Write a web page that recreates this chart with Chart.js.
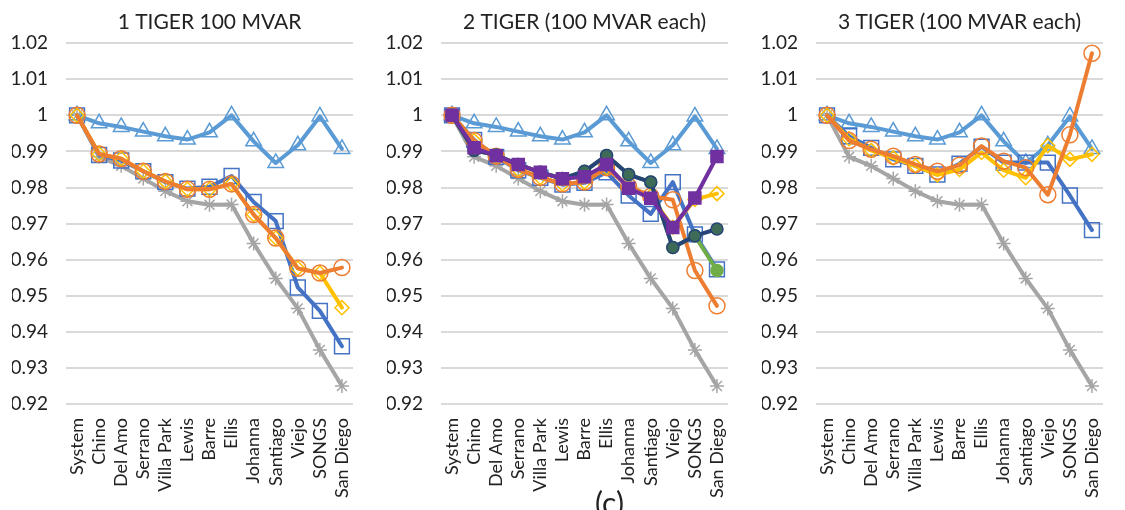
<!DOCTYPE html>
<html>
<head>
<meta charset="utf-8">
<script src="https://cdn.jsdelivr.net/npm/chart.js@4/dist/chart.umd.min.js"></script>
<style>
  body { margin: 0; background: #fff; }
  #wrap { position: relative; width: 1125px; height: 510px; overflow: hidden; }
  canvas { position: absolute; top: 0; }
  #tag { position: absolute; left: 595px; top: 484px; font: 30px Lato, sans-serif; color: #222; }
</style>
</head>
<body>
<div id="wrap">
  <canvas id="p1" width="375" height="510" style="left:0px"></canvas>
  <canvas id="p2" width="375" height="510" style="left:375px"></canvas>
  <canvas id="p3" width="375" height="510" style="left:750px"></canvas>
  <div id="tag">(c)</div>
</div>
<script>
const labels = ['System', 'Chino', 'Del Amo', 'Serrano', 'Villa Park', 'Lewis', 'Barre',
                'Ellis', 'Johanna', 'Santiago', 'Viejo', 'SONGS', 'San Diego']

// values shared by all three panels
const noTiger = [1, 0.9885, 0.986, 0.9825, 0.979, 0.9762, 0.9752, 0.9753, 0.9645, 0.9548, 0.9465, 0.935, 0.925]
const upper = [1, 0.9978, 0.9968, 0.9955, 0.9942, 0.9933, 0.9953, 1.0, 0.9928, 0.9868, 0.9917, 0.9997, 0.9907]

// 1 TIGER
const p1Blue = [1, 0.989, 0.9875, 0.9845, 0.9815, 0.9797, 0.9802, 0.9832, 0.976, 0.9707, 0.9523, 0.9458, 0.936]
const p1Orange = [1, 0.9893, 0.988, 0.9845, 0.9817, 0.9795, 0.9795, 0.981, 0.9725, 0.966, 0.9576, 0.9563, 0.9578]
const p1Yellow = [1, 0.9893, 0.988, 0.9845, 0.9817, 0.9795, 0.9795, 0.981, 0.9725, 0.966, 0.9576, 0.9563, 0.9467]

// 2 TIGER
const p2Blue = [1, 0.9932, 0.9885, 0.9848, 0.9827, 0.9808, 0.9813, 0.9842, 0.9778, 0.9727, 0.9815, 0.967, 0.9573]
const p2Orange = [1, 0.993, 0.9887, 0.985, 0.9828, 0.981, 0.9815, 0.9855, 0.9803, 0.9776, 0.9766, 0.957, 0.9472]
const p2Yellow = [1, 0.993, 0.9887, 0.985, 0.9828, 0.981, 0.9815, 0.9855, 0.9803, 0.9776, 0.969, 0.9767, 0.9783]
const p2Navy = [1, 0.9903, 0.989, 0.9864, 0.9842, 0.9825, 0.9845, 0.9889, 0.9836, 0.9815, 0.9634, 0.9666, 0.9685]
const p2Green = [1, 0.9903, 0.989, 0.9864, 0.9842, 0.9825, 0.9845, 0.9889, 0.9836, 0.9815, 0.9634, 0.9666, 0.957]
const p2Purple = [1, 0.991, 0.9888, 0.9864, 0.9842, 0.9824, 0.983, 0.9864, 0.9798, 0.977, 0.9689, 0.9771, 0.9886]

// 3 TIGER
const p3Blue = [1, 0.9942, 0.991, 0.9878, 0.986, 0.9836, 0.9866, 0.9913, 0.9869, 0.9869, 0.9869, 0.9778, 0.9682]
const p3Orange = [1, 0.993, 0.9906, 0.9887, 0.9864, 0.9845, 0.9862, 0.9915, 0.9873, 0.9855, 0.978, 0.9946, 1.0172]
const p3Yellow = [1, 0.9935, 0.9903, 0.9882, 0.986, 0.9835, 0.985, 0.9897, 0.9848, 0.9827, 0.9916, 0.9878, 0.9892]

const yTicks = [0.92, 0.93, 0.94, 0.95, 0.96, 0.97, 0.98, 0.99, 1, 1.01, 1.02]

const FONT = 'Lato, "Open Sans", sans-serif'
const clear = 'rgba(255,255,255,0)'

function line(label, data, color, style, radius, fill) {
  return {
    label: label,
    data: data,
    borderColor: color,
    borderWidth: 4,
    borderJoinStyle: 'round',
    borderCapStyle: 'round',
    tension: 0,
    fill: false,
    pointStyle: style,
    pointRadius: radius,
    pointBorderColor: color,
    pointBackgroundColor: fill || clear,
    pointBorderWidth: 1.5
  }
}

// first dataset is drawn on top
function grey() { return line('No TIGER', noTiger, '#A5A5A5', 'star', 7) }
function tri() { return line('Upper', upper, '#5B9BD5', 'triangle', 9) }

function makeChart(id, title, datasets) {
  return new Chart(document.getElementById(id), {
    type: 'line',
    data: { labels: labels, datasets: datasets },
    options: {
      responsive: false,
      animation: false,
      layout: { padding: { left: 12, right: 22, top: 6, bottom: 0 } },
      plugins: {
        legend: { display: false },
        tooltip: { enabled: false },
        title: {
          display: true,
          text: title,
          fullSize: false,
          color: '#222',
          font: { family: FONT, size: 21, weight: 'normal' },
          padding: { top: 4, bottom: 8 }
        }
      },
      scales: {
        x: {
          offset: true,
          grid: { display: false },
          border: { display: false },
          ticks: {
            color: '#222',
            font: { family: FONT, size: 18 },
            autoSkip: false,
            minRotation: 90,
            maxRotation: 90,
            padding: 6
          },
          afterFit: s => { s.height = 106 }
        },
        y: {
          min: 0.92,
          max: 1.02,
          afterBuildTicks: s => { s.ticks = yTicks.map(v => ({ value: v })) },
          grid: { color: '#D9D9D9', lineWidth: 2, drawTicks: false },
          border: { display: false },
          ticks: {
            color: '#222',
            font: { family: FONT, size: 19 },
            padding: 18,
            callback: v => String(+v.toFixed(2))
          },
          afterFit: s => { s.width = 54 }
        }
      }
    }
  })
}

makeChart('p1', '1 TIGER 100 MVAR', [
  line('Orange', p1Orange, '#ED7D31', 'circle', 8),
  line('Yellow', p1Yellow, '#FFC000', 'rectRot', 7),
  line('Blue', p1Blue, '#4472C4', 'rect', 10.5),
  tri(),
  grey()
])

makeChart('p2', '2 TIGER (100 MVAR each)', [
  line('Purple', p2Purple, '#7030A0', 'rect', 8.5, '#7030A0'),
  line('Navy', p2Navy, '#264478', 'circle', 6, '#3E6B57'),
  line('Green', p2Green, '#70AD47', 'circle', 6, '#70AD47'),
  line('Orange', p2Orange, '#ED7D31', 'circle', 8),
  line('Yellow', p2Yellow, '#FFC000', 'rectRot', 7),
  line('Blue', p2Blue, '#4472C4', 'rect', 10.5),
  tri(),
  grey()
])

makeChart('p3', '3 TIGER (100 MVAR each)', [
  line('Orange', p3Orange, '#ED7D31', 'circle', 8),
  line('Yellow', p3Yellow, '#FFC000', 'rectRot', 7),
  line('Blue', p3Blue, '#4472C4', 'rect', 10.5),
  tri(),
  grey()
])
</script>
</body>
</html>
